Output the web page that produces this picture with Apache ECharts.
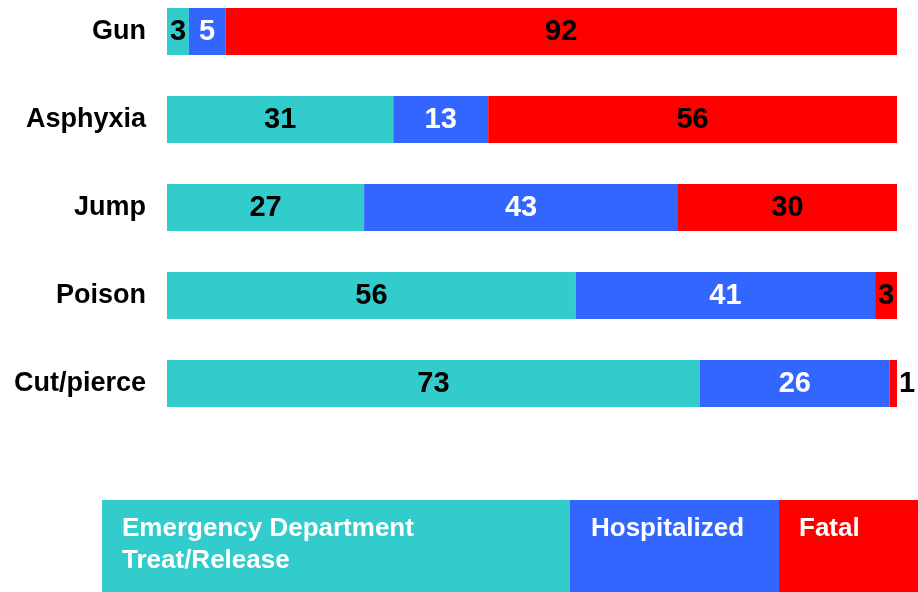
<!DOCTYPE html>
<html>
<head>
<meta charset="utf-8">
<script src="https://cdn.jsdelivr.net/npm/echarts@6/dist/echarts.min.js"></script>
<style>
  html, body { margin: 0; padding: 0; background: #ffffff; }
  #chart { width: 918px; height: 592px; }
</style>
</head>
<body>
<div id="chart"></div>
<script>
// Injury outcome share (%) by mechanism
const categories = ['Gun', 'Asphyxia', 'Jump', 'Poison', 'Cut/pierce'];
const seriesNames = ['Emergency Department\nTreat/Release', 'Hospitalized', 'Fatal'];
const edTreatRelease = [3, 31, 27, 56, 73];
const hospitalized = [5, 13, 43, 41, 26];
const fatal = [92, 56, 30, 3, 1];

const colors = ['#33CCCC', '#3366FF', '#FF0000'];
const labelColors = ['#000000', '#ffffff', '#000000'];
const FONT = '"Liberation Sans", Arial, Helvetica, sans-serif';

const chart = echarts.init(document.getElementById('chart'), null, { renderer: 'canvas' });

function makeSeries(name, values, idx) {
  return {
    name: name,
    type: 'bar',
    stack: 'total',
    barWidth: 47,
    itemStyle: { color: colors[idx] },
    label: {
      show: true,
      position: 'inside',
      color: labelColors[idx],
      fontFamily: FONT,
      fontWeight: 'bold',
      fontSize: 29
    },
    data: values.map(function (v) {
      // very thin segments carry their label just outside the bar end
      if (v < 2) {
        return { value: v, label: { position: 'right', distance: 2, color: '#000000' } };
      }
      return v;
    })
  };
}

const option = {
  animation: false,
  backgroundColor: '#ffffff',
  // category ticks sit on the bar centres: first at y=31.5, last at y=383.5
  grid: { left: 167, right: 21, top: 31.5, height: 352, containLabel: false },
  xAxis: {
    type: 'value',
    min: 0,
    max: 100,
    show: false
  },
  yAxis: {
    type: 'category',
    data: categories,
    inverse: true,
    boundaryGap: false,
    axisLine: { show: false },
    axisTick: { show: false },
    splitLine: { show: false },
    axisLabel: {
      margin: 21,
      color: '#000000',
      fontFamily: FONT,
      fontWeight: 'bold',
      fontSize: 27
    }
  },
  series: [
    makeSeries(seriesNames[0], edTreatRelease, 0),
    makeSeries(seriesNames[1], hospitalized, 1),
    makeSeries(seriesNames[2], fatal, 2)
  ],
  graphic: [
    { type: 'rect', shape: { x: 102, y: 500, width: 468, height: 92 }, style: { fill: colors[0] } },
    { type: 'rect', shape: { x: 570, y: 500, width: 209, height: 92 }, style: { fill: colors[1] } },
    { type: 'rect', shape: { x: 779, y: 500, width: 139, height: 92 }, style: { fill: colors[2] } },
    { type: 'text', left: 122, top: 513, style: { text: seriesNames[0], fill: '#ffffff', font: 'bold 26px ' + FONT, lineHeight: 32 } },
    { type: 'text', left: 591, top: 513, style: { text: seriesNames[1], fill: '#ffffff', font: 'bold 26px ' + FONT, lineHeight: 32 } },
    { type: 'text', left: 799, top: 513, style: { text: seriesNames[2], fill: '#ffffff', font: 'bold 26px ' + FONT, lineHeight: 32 } }
  ]
};

chart.setOption(option);
</script>
</body>
</html>
